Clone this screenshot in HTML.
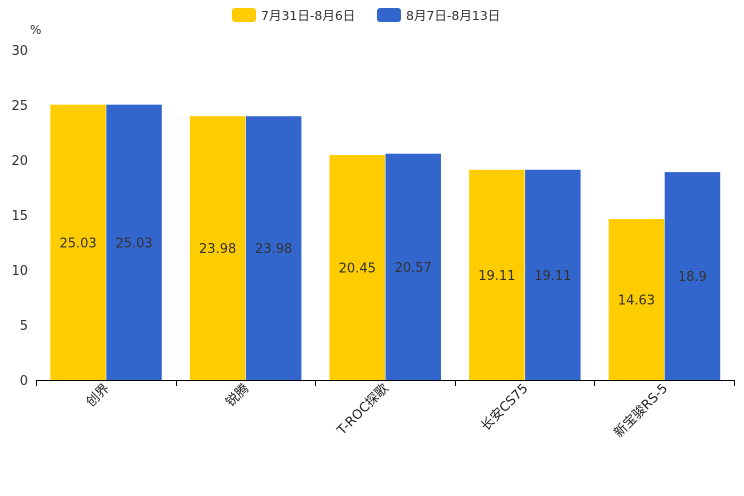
<!DOCTYPE html>
<html><head><meta charset="utf-8"><style>
body{margin:0;background:#fff}
svg{display:block;font-family:"DejaVu Sans","Liberation Sans","Noto Sans CJK SC",sans-serif}
</style></head><body>
<svg id="c" width="744" height="496">
<g>
 <rect x="232" y="8" width="24" height="14" rx="3" fill="#ffcc00"/>
 <text x="261" y="20" font-size="12.5" fill="#333">7月31日-8月6日</text>
 <rect x="377" y="8" width="24" height="14" rx="3" fill="#3366cc"/>
 <text x="406" y="20" font-size="12.5" fill="#333">8月7日-8月13日</text>
</g>
<text x="30" y="34" font-size="12" fill="#333">%</text>
</svg>
<script>
const categories=["创界","锐腾","T-ROC探歌","长安CS75","新宝骏RS-5"];
const week1=[25.03,23.98,20.45,19.11,14.63];
const week2=[25.03,23.98,20.57,19.11,18.9];
const yTicks=[0,5,10,15,20,25,30];
const svg=document.getElementById('c');
const NS='http://www.w3.org/2000/svg';
const x0=36,x1=734,yBase=380,yTop=50,yMax=30;
const y=v=>yBase-(v/yMax)*(yBase-yTop);
const bw=(x1-x0)/categories.length;
function mk(t,a){const e=document.createElementNS(NS,t);for(const k in a)e.setAttribute(k,a[k]);svg.appendChild(e);return e;}
yTicks.forEach(t=>{
 const e=mk('text',{x:28,y:y(t)+5,'text-anchor':'end','font-size':13,fill:'#333'});
 e.textContent=t;
 
 
});
const series=[[week1,'#ffcc00',0],[week2,'#3366cc',1]];
categories.forEach((c,i)=>{
 const cx=x0+bw*i+bw/2;
 series.forEach(([vals,col,k])=>{
  const v=vals[i];
  const bx=cx-55.5+k*56;
  const r=mk('rect',{x:bx,y:y(v),width:55.5,height:yBase-y(v),fill:col});
  
  
  const t=mk('text',{x:bx+27.75,y:(y(v)+yBase)/2+5,'text-anchor':'middle','font-size':13,fill:'#333'});
  t.textContent=v;
  
  
 });
 const lx=cx+4,ly=389;
 const t=mk('text',{x:lx,y:ly,'text-anchor':'end','font-size':13,fill:'#222',transform:`rotate(-45 ${lx} ${ly})`});
 t.textContent=c;
 
 
});
const ax=mk('line',{x1:x0,y1:yBase+0.5,x2:x1+1,y2:yBase+0.5,stroke:'#000','stroke-width':1});


for(let i=0;i<=categories.length;i++){
 const xx=Math.round(x0+bw*i)+0.5;
 const tk=mk('line',{x1:xx,y1:yBase,x2:xx,y2:yBase+6,stroke:'#000'});
 
 
}
</script>
</body></html>
